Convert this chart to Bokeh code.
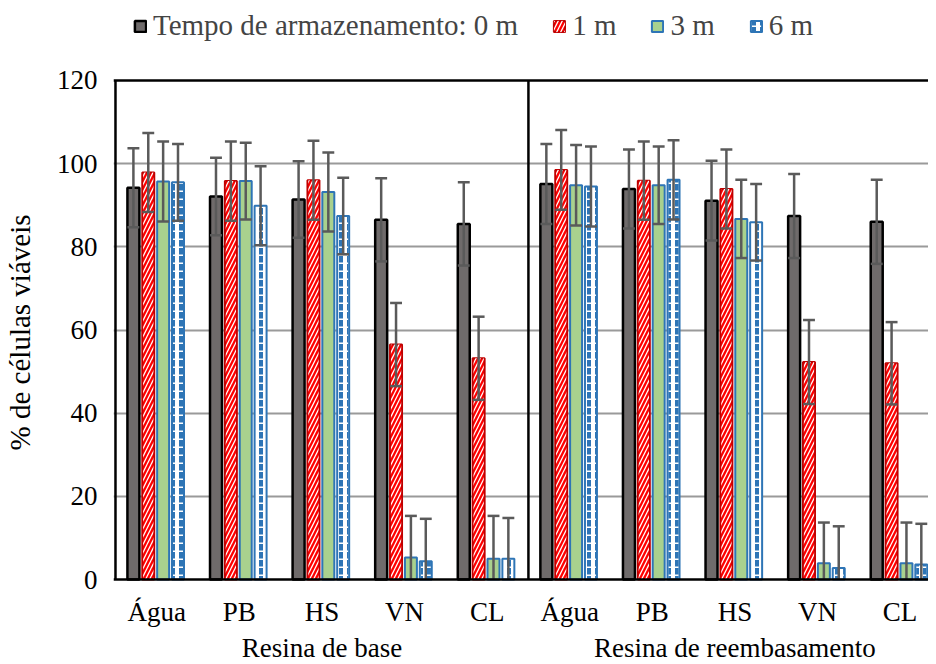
import numpy as np
from bokeh.plotting import figure
from bokeh.models import (Range1d, FixedTicker, Span, Legend, LegendItem, ColumnDataSource)
from bokeh.core.properties import value
from bokeh.embed import file_html
from bokeh.resources import INLINE

# ---------------- data ----------------
categories = ["Água", "PB", "HS", "VN", "CL", "Água", "PB", "HS", "VN", "CL"]
groups = ["Resina de base", "Resina de reembasamento"]
series_names = ["Tempo de armazenamento: 0 m", "1 m", "3 m", "6 m"]

m0 = [94.2, 92.1, 91.4, 86.5, 85.5, 95.1, 93.9, 91.1, 87.4, 86.0]
m1 = [97.9, 95.8, 96.0, 56.5, 53.2, 98.5, 95.9, 93.9, 52.3, 52.0]
m3 = [95.7, 95.8, 93.2, 5.3, 5.0, 94.8, 94.8, 86.7, 3.9, 3.9]
m6 = [95.5, 89.9, 87.4, 4.4, 5.0, 94.5, 96.1, 85.9, 2.8, 3.6]

e0 = [9.5, 9.3, 9.2, 10.0, 10.0, 9.6, 9.5, 9.6, 10.1, 10.1]
e1 = [9.5, 9.5, 9.5, 10.0, 10.0, 9.6, 9.4, 9.5, 10.1, 9.9]
e3 = [9.6, 9.2, 9.5, 10.0, 10.3, 9.7, 9.3, 9.4, 9.8, 9.8]
e6 = [9.2, 9.5, 9.2, 10.2, 9.8, 9.6, 9.5, 9.2, 10.0, 9.8]

y_ticks = [0, 20, 40, 60, 80, 100, 120]

# ---------------- figure ----------------
FONT = "Liberation Serif"
W, H = 928, 664
PX_PER_Y = 4.16              # pixels per y unit
Y_MIN = -85 / PX_PER_Y       # room below the baseline for category/group names
Y_MAX = 120 + 80 / PX_PER_Y  # room above for the legend
p = figure(width=W, height=H, output_backend="svg", toolbar_location=None,
           x_range=Range1d(-0.024, 9.844), y_range=Range1d(Y_MIN, Y_MAX),
           min_border_left=107, min_border_right=0, min_border_top=0,
           min_border_bottom=0, x_axis_type=None)
p.outline_line_color = None
p.background_fill_color = "white"
p.border_fill_color = "white"

p.xgrid.visible = False
p.ygrid.ticker = FixedTicker(ticks=y_ticks[1:-1])
p.ygrid.grid_line_color = "#9a9a9a"
p.ygrid.grid_line_width = 2

yax = p.yaxis[0]
yax.ticker = FixedTicker(ticks=y_ticks)
yax.axis_line_color = None
yax.major_tick_line_color = None
yax.minor_tick_line_color = None
yax.major_label_text_font = FONT
yax.major_label_text_font_size = "27px"
yax.major_label_text_color = "black"
yax.major_label_standoff = 10
yax.axis_label = "% de células viáveis"
yax.axis_label_text_font = FONT
yax.axis_label_text_font_size = "29px"
yax.axis_label_text_font_style = "normal"
yax.axis_label_text_color = "black"
yax.axis_label_standoff = 18

# ---------------- bars ----------------
step = 0.18
bw = 0.145
base = np.arange(len(categories)) + 0.5 - 0.013
means = [m0, m1, m3, m6]
errs = [e0, e1, e3, e6]

fills = [
    dict(fill_color="#6f6b6b", line_color="black", line_width=2.5),
    dict(fill_color="#ff0000", line_color="#c00000", line_width=2),
    dict(fill_color="#a9d18e", line_color="#2e75b6", line_width=2),
    dict(fill_color="white", line_color="#2e75b6", line_width=2),
]
hatches = [
    None,
    dict(hatch_pattern="right_diagonal_line", hatch_color="white",
         hatch_weight=1.3, hatch_scale=8),
    None,
    dict(hatch_pattern="vertical_dash", hatch_color="#2e75b6",
         hatch_weight=4, hatch_scale=8),
]

legend_renderers = []
for k in range(4):
    x = base + (k - 1.5) * step
    src = ColumnDataSource(dict(x=x, top=means[k]))
    rs = [p.vbar(x="x", top="top", bottom=0, width=bw, source=src, **fills[k])]
    if hatches[k] is not None:
        rs.append(p.vbar(x="x", top="top", bottom=0, width=bw - 0.02, source=src,
                         fill_color=None, line_color=None, **hatches[k]))
    legend_renderers.append(rs)

cap = 0.072
for k in range(4):
    x = base + (k - 1.5) * step
    m = np.array(means[k]); e = np.array(errs[k])
    lo = m - e; hi = m + e
    lo_vis = np.maximum(lo, 0)
    p.segment(x0=x, y0=lo_vis, x1=x, y1=hi, line_color="#5a5a5a", line_width=2.5)
    p.segment(x0=x - cap, y0=hi, x1=x + cap, y1=hi, line_color="#5a5a5a", line_width=2.5)
    keep = lo > 0
    p.segment(x0=(x - cap)[keep], y0=lo[keep], x1=(x + cap)[keep], y1=lo[keep],
              line_color="#5a5a5a", line_width=2.5)

# frame lines (plot-area border and group divider)
for loc in [0, 120]:
    p.add_layout(Span(location=loc, dimension="width", line_color="black", line_width=2.5))
p.segment(x0=[0, 5], y0=[0, 0], x1=[0, 5], y1=[120, 120], line_color="black", line_width=2.5)

# ---------------- category and group names ----------------
cat_x = [i + 0.5 for i in range(len(categories))]
p.text(x=cat_x, y=[-7.9] * len(categories), text=categories,
       text_font=value(FONT), text_font_size="27px", text_color="black",
       text_align="center", text_baseline="middle")
grp_x = [2.5, 7.5]
p.text(x=grp_x, y=[-16.4, -16.4], text=groups,
       text_font=value(FONT), text_font_size="27px", text_color="black",
       text_align="center", text_baseline="middle")

# ---------------- legend ----------------
legend = Legend(items=[LegendItem(label=n, renderers=rs) for n, rs in zip(series_names, legend_renderers)],
                orientation="horizontal", location=(20, 622),
                label_text_font=FONT, label_text_font_size="29px",
                glyph_width=14, glyph_height=14, label_standoff=6, spacing=34,
                padding=0, margin=0, border_line_color=None, background_fill_alpha=0)
p.add_layout(legend, "center")

open("out.html", "w").write(file_html(p, INLINE))
